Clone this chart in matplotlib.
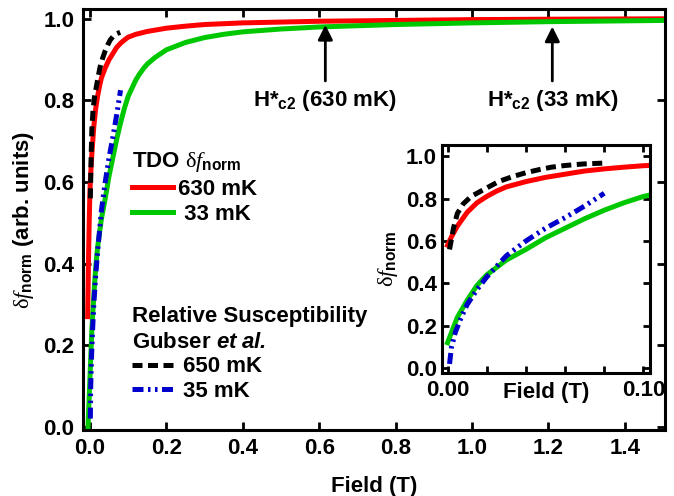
import numpy as np
import matplotlib
matplotlib.use("Agg")
import matplotlib.pyplot as plt

plt.rcParams['font.family'] = ['Liberation Sans', 'DejaVu Sans']
plt.rcParams['font.weight'] = 'bold'
plt.rcParams['axes.labelweight'] = 'bold'
plt.rcParams['mathtext.fontset'] = 'custom'
plt.rcParams['mathtext.rm'] = 'Liberation Serif:style=normal:weight=normal'
plt.rcParams['mathtext.it'] = 'Liberation Serif:style=italic:weight=normal'
plt.rcParams['mathtext.bf'] = 'Liberation Sans:weight=bold'
plt.rcParams['mathtext.sf'] = 'Liberation Sans:style=italic:weight=bold'

############################################
# data
# TDO 630 mK
red_x = [-0.006, -0.004, -0.002, 0.0, 0.002, 0.005, 0.01, 0.015, 0.02, 0.025, 0.03,
         0.04, 0.05, 0.06, 0.07, 0.08, 0.09, 0.10, 0.12, 0.15, 0.2, 0.25, 0.3,
         0.4, 0.5, 0.6, 0.8, 1.0, 1.2, 1.5]
red_y = [0.27, 0.40, 0.50, 0.58, 0.62, 0.67, 0.735, 0.78, 0.81, 0.835, 0.855,
         0.88, 0.90, 0.915, 0.93, 0.94, 0.948, 0.955, 0.962, 0.969, 0.977, 0.982, 0.986,
         0.99, 0.992, 0.994, 0.996, 0.998, 0.999, 1.0]
# TDO 33 mK
green_x = [-0.005, -0.003, 0.0, 0.005, 0.01, 0.015, 0.02, 0.03, 0.04, 0.05, 0.06,
           0.07, 0.08, 0.09, 0.10, 0.11, 0.12, 0.13, 0.14, 0.15, 0.17, 0.2, 0.25,
           0.3, 0.35, 0.4, 0.5, 0.6, 0.7, 0.8, 1.0, 1.2, 1.5]
green_y = [0.0, 0.05, 0.12, 0.24, 0.32, 0.39, 0.44, 0.51, 0.56, 0.615, 0.66,
           0.705, 0.745, 0.78, 0.81, 0.83, 0.85, 0.865, 0.878, 0.889, 0.905, 0.924, 0.942,
           0.954, 0.962, 0.968, 0.975, 0.98, 0.983, 0.986, 0.99, 0.993, 0.996]
# Gubser et al. 650 mK
black_x = [0.001, 0.003, 0.005, 0.008, 0.012, 0.016, 0.02, 0.026, 0.033, 0.04,
           0.047, 0.053, 0.06, 0.069, 0.079]
black_y = [0.56, 0.66, 0.73, 0.775, 0.81, 0.83, 0.85, 0.88, 0.903, 0.922,
           0.937, 0.948, 0.956, 0.963, 0.967]
# Gubser et al. 35 mK
blue_x = [0.001, 0.002, 0.004, 0.007, 0.01, 0.015, 0.02, 0.025, 0.03, 0.04,
          0.05, 0.06, 0.07, 0.08]
blue_y = [0.02, 0.10, 0.17, 0.24, 0.30, 0.37, 0.43, 0.48, 0.53, 0.60,
          0.66, 0.71, 0.765, 0.825]

hc2_x = [0.616, 1.21]
hc2_y = [0.985, 0.981]
hc2_labels = [r'H*$_{\mathbf{c2}}$ (630 mK)', r'H*$_{\mathbf{c2}}$ (33 mK)']

dfnorm = r'$\mathrm{δ}\mathit{f}_{\mathbf{norm}}$'

RED = '#ff0000'
GREEN = '#00c800'
BLUE = '#0000cc'
LW = 3.6
dash_black = (0, (2.0, 1.1))
dash_blue = (0, (2.2, 0.9, 0.5, 0.9, 0.5, 0.9))
FS = 16


def style_axes(a, ticklen=6):
    for s in a.spines.values():
        s.set_linewidth(2.2)
    a.tick_params(which='both', direction='in', top=True, right=True,
                  length=ticklen, width=2.0, labelsize=FS, pad=6)


#############################################
## Plotting Data
fig = plt.figure(figsize=(6.74, 4.96), dpi=100)
ax = fig.add_axes([0.1227, 0.133, 0.864, 0.848])

h_red, = ax.plot(red_x, red_y, color=RED, lw=LW)
h_green, = ax.plot(green_x, green_y, color=GREEN, lw=LW)
h_black, = ax.plot(black_x, black_y, color='k', lw=LW, linestyle=dash_black)
h_blue, = ax.plot(blue_x, blue_y, color=BLUE, lw=LW, linestyle=dash_blue)

ax.set_xlim(-0.019, 1.505)
ax.set_ylim(-0.008, 1.023)
ax.set_xticks(np.arange(0, 1.41, 0.2))
ax.set_yticks(np.arange(0, 1.01, 0.2))
ax.xaxis.set_major_formatter(plt.FormatStrFormatter('%.1f'))
ax.yaxis.set_major_formatter(plt.FormatStrFormatter('%.1f'))
style_axes(ax)
ax.set_xlabel('Field (T)', fontsize=FS, labelpad=12)
ax.set_ylabel(dfnorm + ' (arb. units)', fontsize=FS, labelpad=5)

# Hc2 arrows
for x, y, lab in zip(hc2_x, hc2_y, hc2_labels):
    ax.annotate(lab, xy=(x, y), xytext=(x, 0.80), ha='center', va='center',
                fontsize=FS,
                arrowprops=dict(arrowstyle='-|>', color='k', lw=2,
                                mutation_scale=22, shrinkA=3, shrinkB=0))

# legends
leg1 = ax.legend([h_red, h_green], ['630 mK', ' 33 mK'],
                 title='TDO ' + dfnorm, loc='upper left',
                 bbox_to_anchor=(0.0847, 0.665), frameon=False,
                 handlelength=1.85, handletextpad=0.2, borderaxespad=0,
                 borderpad=0, labelspacing=0.2, alignment='left',
                 prop={'size': FS, 'weight': 'bold'},
                 title_fontproperties={'size': FS, 'weight': 'bold'})
ax.add_artist(leg1)
leg2 = ax.legend([h_black, h_blue], ['650 mK', '35 mK'],
                 title='Relative Susceptibility\nGubser $\\mathsf{et\\ al.}$',
                 loc='upper left', bbox_to_anchor=(0.0847, 0.295), frameon=False,
                 handlelength=1.85, handletextpad=0.45, borderaxespad=0,
                 borderpad=0, labelspacing=0.16, alignment='left',
                 prop={'size': FS, 'weight': 'bold'},
                 title_fontproperties={'size': FS, 'weight': 'bold'})
leg2.get_title().set_linespacing(1.3)

#############################################
## inset
ax_in = fig.add_axes([0.6565, 0.2488, 0.308, 0.459])
ax_in.plot([x for x in red_x if x >= 0], [y for x, y in zip(red_x, red_y) if x >= 0],
           color=RED, lw=LW)
ax_in.plot([x for x in green_x if x >= 0], [y for x, y in zip(green_x, green_y) if x >= 0],
           color=GREEN, lw=LW)
ax_in.plot(black_x, black_y, color='k', lw=LW, linestyle=dash_black)
ax_in.plot(blue_x, blue_y, color=BLUE, lw=LW, linestyle=dash_blue)
ax_in.set_xlim(-0.0026, 0.1034)
ax_in.set_ylim(-0.021, 1.053)
ax_in.set_xticks(np.arange(0, 0.101, 0.02))
ax_in.set_xticklabels(['0.00', '', '', '', '', '0.10'])
ax_in.set_yticks(np.arange(0, 1.01, 0.2))
ax_in.yaxis.set_major_formatter(plt.FormatStrFormatter('%.1f'))
style_axes(ax_in, ticklen=5)
ax_in.tick_params(axis='x', pad=5)
ax_in.tick_params(axis='y', pad=4)
ax_in.set_xlabel('Field (T)', fontsize=FS)
ax_in.xaxis.set_label_coords(0.5, -0.04)
ax_in.set_ylabel(dfnorm, fontsize=FS, labelpad=4)

fig.savefig('out.png', dpi=100)
